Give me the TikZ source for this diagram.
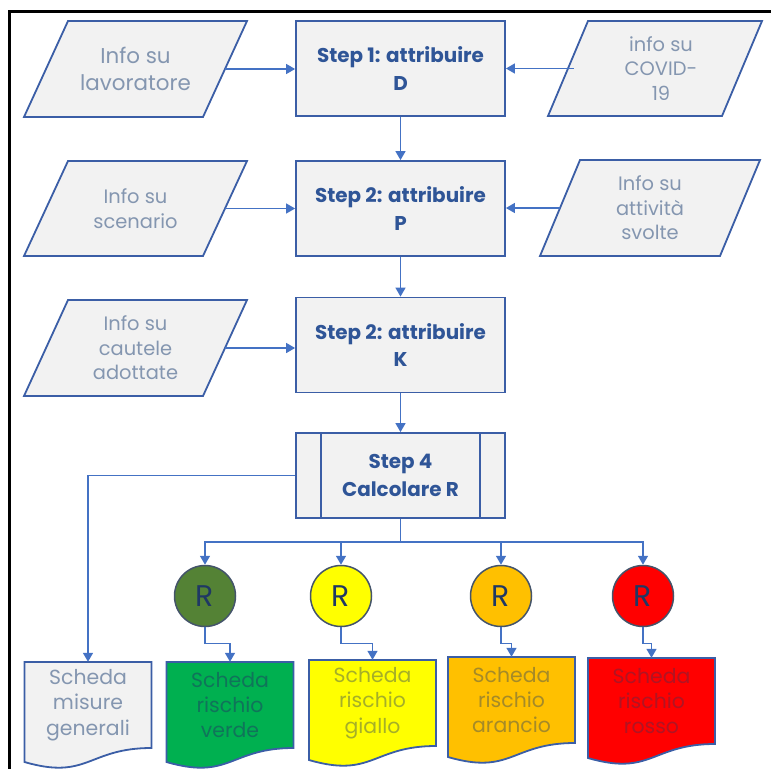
\documentclass[tikz,border=0pt]{standalone}
\usepackage{fontspec}
\setmainfont{Poppins}
\usetikzlibrary{arrows.meta,calc}
\definecolor{boxfill}{HTML}{F2F2F2}
\definecolor{boxline}{HTML}{3B5EA6}
\definecolor{connc}{HTML}{4472C4}
\definecolor{steptxt}{HTML}{2F5597}
\definecolor{partxt}{HTML}{8496B0}
\definecolor{navy}{HTML}{1F3864}
\definecolor{slate}{HTML}{44546A}
\definecolor{rgreen}{HTML}{548235}
\definecolor{dgreen}{HTML}{00B050}
\definecolor{ryellow}{HTML}{FFFF00}
\definecolor{rorange}{HTML}{FFC000}
\definecolor{rred}{HTML}{FF0000}
\colorlet{tgreen}{navy!50!dgreen}
\colorlet{tyellow}{navy!40!ryellow}
\colorlet{torange}{navy!40!rorange}
\colorlet{tred}{navy!35!rred}
\tikzset{
  stepbox/.style={draw=boxline, line width=1.8bp, fill=boxfill, minimum width=209bp,
    minimum height=95bp, align=center, text=steptxt, inner sep=0pt,
    font=\fontsize{20}{28}\selectfont\bfseries},
  parshape/.style={draw=boxline, line width=1.8bp, fill=boxfill},
  parnode/.style={align=center, text=partxt, inner sep=0pt,
    font=\fontsize{19.5}{24.5}\selectfont},
  docline/.style={draw=boxline, line width=1.8bp},
  docnode/.style={align=center, inner sep=0pt, minimum width=127bp, minimum height=86bp,
    font=\fontsize{20.5}{25.5}\selectfont},
  rcircle/.style={circle, draw=slate, line width=1.5bp, minimum size=61bp, inner sep=0pt,
    text=navy, font=\fontsize{30}{30}\selectfont},
  conn/.style={draw=connc, line width=1.5bp, -{Triangle[width=10bp,length=9bp]}},
  connplain/.style={draw=connc, line width=1.5bp}
}
\newcommand\infopar[8]{% name, cx, cy, w, h, s, text, extra node opts
  \filldraw[parshape] (#2-#4/2+#6/2, #3-#5/2) -- ++(#4,0) -- ++(-#6,#5) -- ++(-#4,0) -- cycle;
  \node[parnode, minimum width=#4bp, minimum height=#5bp, #8] (#1) at (#2,#3) {#7};
}
\newcommand\docshape[6]{% name, cx, top, fill, text colour, text
  \filldraw[docline, fill=#4] (#2-63.5,#3) -- (#2+63.5,#3) -- (#2+63.5,#3+86)
    .. controls (#2,#3+86) and (#2,#3+118.5) .. (#2-63.5,#3+100) -- cycle;
  \node[docnode, text=#5] (#1) at (#2,#3+43) {#6};
}
\begin{document}
\begin{tikzpicture}[x=1bp,y=-1bp]
\useasboundingbox (0,0) rectangle (771,769);
% frame
\draw[line width=3bp, line cap=rect] (9,769) -- (9,11.5) -- (771,11.5);

% steps
\node[stepbox] (s1) at (400.5,68.5) {Step 1: attribuire\\D};
\node[stepbox] (s2) at (400.5,208.5) {Step 2: attribuire\\P};
\node[stepbox] (s3) at (400.5,345) {Step 2: attribuire\\K};
\node[stepbox, minimum height=85bp] (s4) at (400.5,475.5) {Step 4\\Calcolare R};
\draw[boxline, line width=1.8bp] ([xshift=26bp]s4.north west) -- ([xshift=26bp]s4.south west);
\draw[boxline, line width=1.8bp] ([xshift=-26bp]s4.north east) -- ([xshift=-26bp]s4.south east);

% inputs
\infopar{p1}{135.5}{69}{179}{96}{44}{Info su\\lavoratore}{font=\fontsize{21.5}{26.5}\selectfont}
\infopar{p2}{135.5}{208.5}{179}{95}{44}{Info su\\scenario}{}
\infopar{p3}{135.5}{348}{179}{96}{44}{Info su\\cautele\\adottate}{}
\infopar{q1}{655}{68.5}{174}{95}{40}{info su\\COVID-\\19}{xshift=6bp}
\infopar{q2}{650}{208}{180}{96}{40}{Info su\\attività\\svolte}{}

% risk circles
\node[rcircle, fill=rgreen] (c1) at (205,596) {R};
\node[rcircle, fill=ryellow] (c2) at (341,596) {R};
\node[rcircle, fill=rorange] (c3) at (501,596) {R};
\node[rcircle, fill=rred] (c4) at (643,596) {R};

% documents
\docshape{d0}{88}{662}{boxfill}{partxt}{Scheda\\misure\\generali}
\docshape{d1}{230}{662}{dgreen}{tgreen}{Scheda\\rischio\\verde}
\docshape{d2}{372.5}{660}{ryellow}{tyellow}{Scheda\\rischio\\giallo}
\docshape{d3}{511.5}{657}{rorange}{torange}{Scheda\\rischio\\arancio}
\docshape{d4}{651.5}{658}{rred}{tred}{Scheda\\rischio\\rosso}

% connectors
\draw[conn] (p1.east) -- (p1.east -| s1.west);
\draw[conn] (q1.west) -- (q1.west -| s1.east);
\draw[conn] (p2.east) -- (p2.east -| s2.west);
\draw[conn] (q2.west) -- (q2.west -| s2.east);
\draw[conn] (p3.east) -- (p3.east -| s3.west);
\draw[conn] (s1.south) -- (s2.north);
\draw[conn] (s2.south) -- (s3.north);
\draw[conn] (s3.south) -- (s4.north);
\draw[conn] (s4.west) -| (d0.north);
\draw[connplain] (s4.south) -- ++(0,23) coordinate (bus);
\draw[conn] (bus) -| (c1.north);
\draw[conn] (bus) -| (c2.north);
\draw[conn] (bus) -| (c3.north);
\draw[conn] (bus) -| (c4.north);
\draw[conn] (c1.south) -- ++(0,16) -| (d1.north);
\draw[conn] (c2.south) -- ++(0,16) -| (d2.north);
\draw[conn] (c3.south) -- ++(0,16) -| (d3.north);
\draw[conn] (c4.south) -- ++(0,16) -| (d4.north);
\end{tikzpicture}
\end{document}
